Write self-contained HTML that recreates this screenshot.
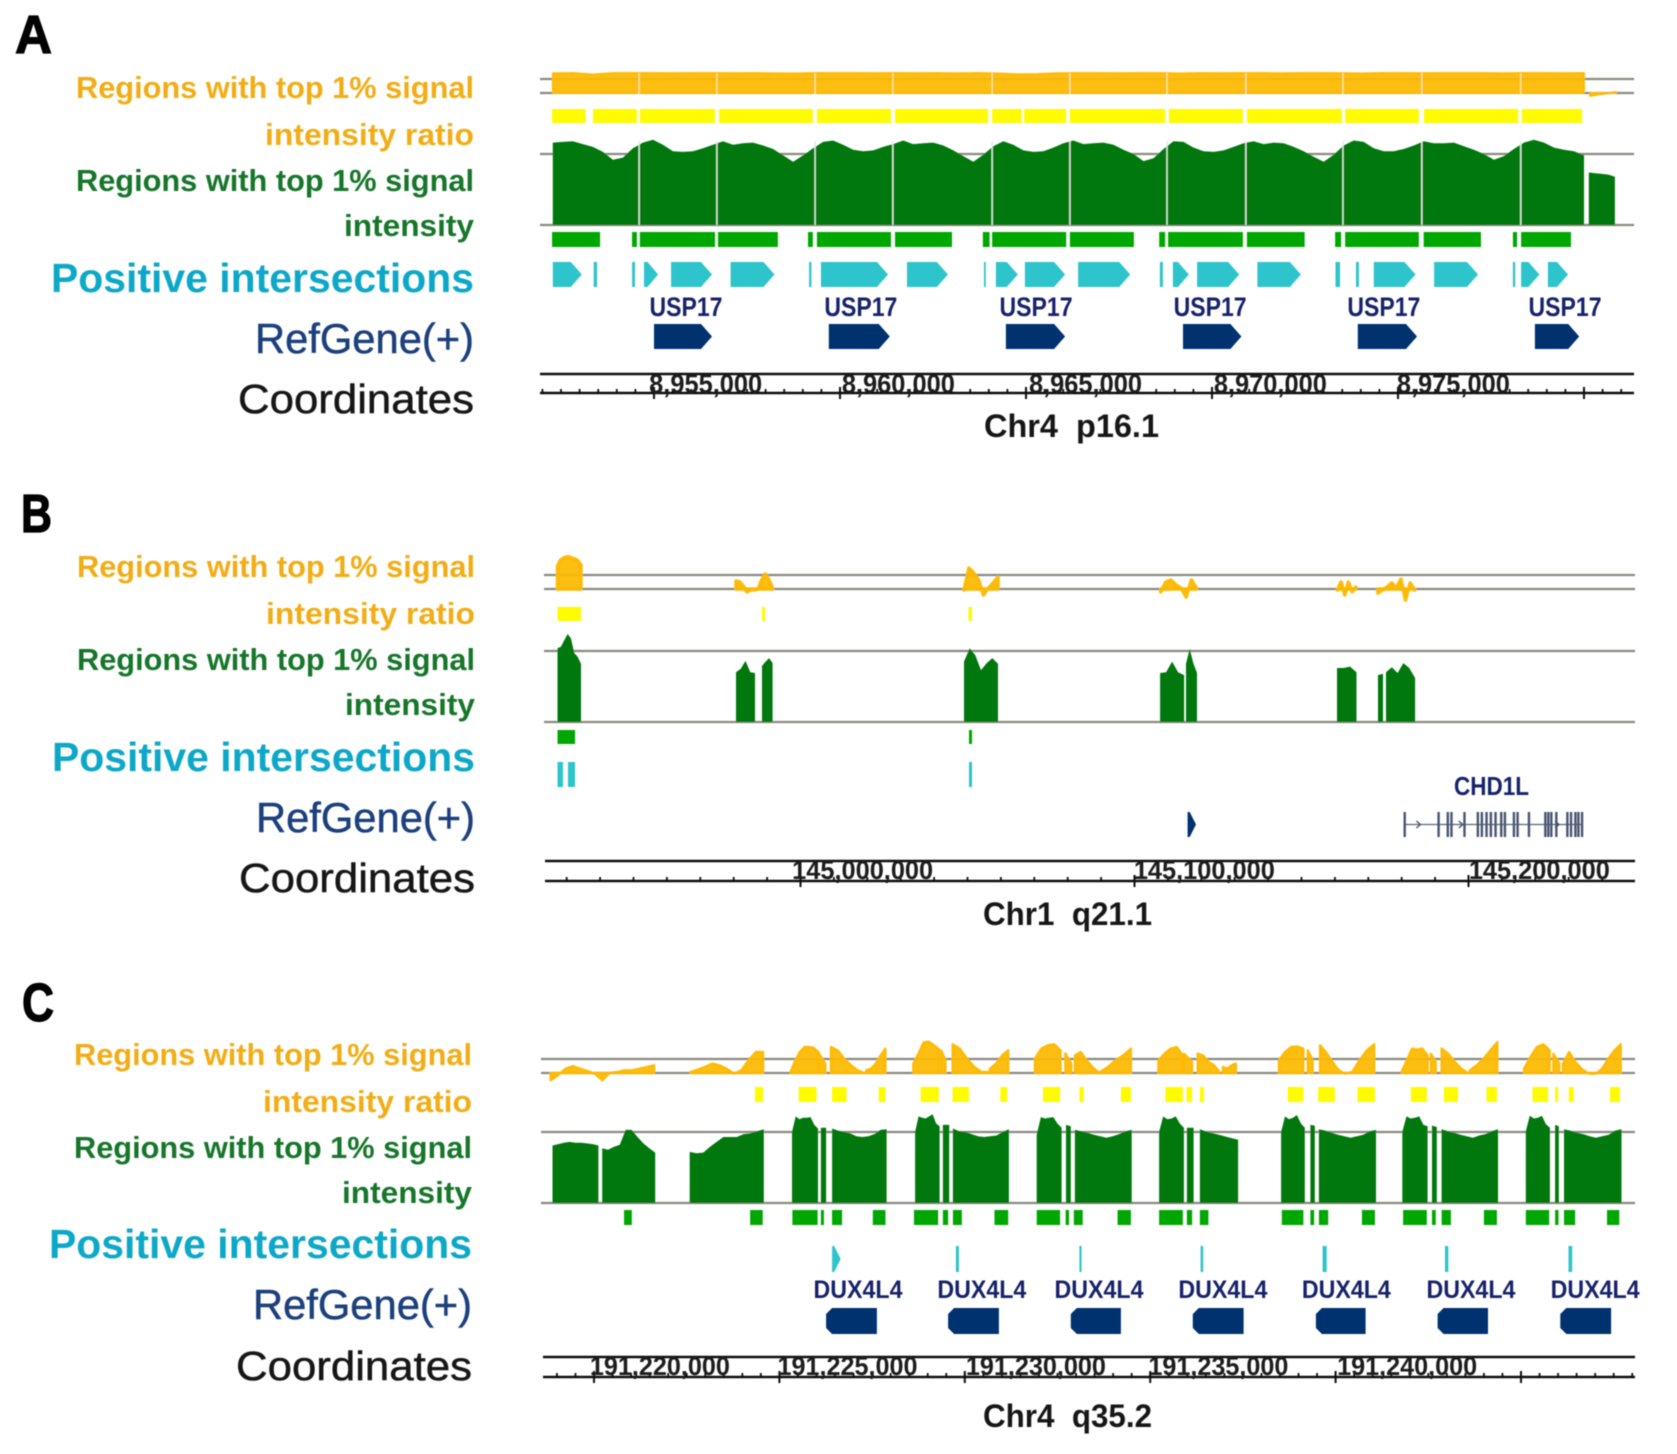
<!DOCTYPE html>
<html lang="en">
<head>
<meta charset="utf-8">
<title>Genome browser tracks: regions with top 1% signal</title>
<style>
html,body{margin:0;padding:0;background:#fff;}
svg{display:block;}
text{font-family:"Liberation Sans",Arial,sans-serif;}
.gold{fill:#f2ad13;font-size:31px;font-weight:700;}
.grn{fill:#17762b;font-size:31px;font-weight:700;}
.pos{fill:#11a8c8;font-size:41px;font-weight:700;}
.ref{fill:#1d3f7c;font-size:42px;stroke:#1d3f7c;stroke-width:.5px;}
.crd{fill:#141414;font-size:41px;stroke:#141414;stroke-width:.5px;}
.letter{fill:#000;font-size:54px;font-weight:700;stroke:#000;stroke-width:1.2px;}
.chr{fill:#141414;font-size:32px;font-weight:700;}
</style>
</head>
<body>
<svg id="figure" width="1677" height="1454" viewBox="0 0 1677 1454" xmlns="http://www.w3.org/2000/svg">
<defs><filter id="soft" x="-2%" y="-2%" width="104%" height="104%"><feGaussianBlur stdDeviation="0.65"/></filter></defs>
<rect width="1677" height="1454" fill="#fff"/>
<g id="root" filter="url(#soft)">

<g>
<text class="letter" x="15" y="53" textLength="37" lengthAdjust="spacingAndGlyphs">A</text>
<text class="gold" x="474" y="98" text-anchor="end" textLength="398" lengthAdjust="spacingAndGlyphs">Regions with top 1% signal</text>
<text class="gold" x="474" y="145" text-anchor="end" textLength="209" lengthAdjust="spacingAndGlyphs">intensity ratio</text>
<text class="grn" x="474" y="191" text-anchor="end" textLength="398" lengthAdjust="spacingAndGlyphs">Regions with top 1% signal</text>
<text class="grn" x="474" y="236" text-anchor="end" textLength="130" lengthAdjust="spacingAndGlyphs">intensity</text>
<text class="pos" x="474" y="292" text-anchor="end" textLength="423" lengthAdjust="spacingAndGlyphs">Positive intersections</text>
<text class="ref" x="474" y="353" text-anchor="end" textLength="219" lengthAdjust="spacingAndGlyphs">RefGene(+)</text>
<text class="crd" x="474" y="413" text-anchor="end" textLength="236" lengthAdjust="spacingAndGlyphs">Coordinates</text>
<text class="chr" x="984" y="437" textLength="175" lengthAdjust="spacingAndGlyphs">Chr4 &#160;p16.1</text>
</g>

<g>
<text class="letter" x="21" y="532" textLength="31" lengthAdjust="spacingAndGlyphs">B</text>
<text class="gold" x="475" y="577" text-anchor="end" textLength="398" lengthAdjust="spacingAndGlyphs">Regions with top 1% signal</text>
<text class="gold" x="475" y="624" text-anchor="end" textLength="209" lengthAdjust="spacingAndGlyphs">intensity ratio</text>
<text class="grn" x="475" y="670" text-anchor="end" textLength="398" lengthAdjust="spacingAndGlyphs">Regions with top 1% signal</text>
<text class="grn" x="475" y="715" text-anchor="end" textLength="130" lengthAdjust="spacingAndGlyphs">intensity</text>
<text class="pos" x="475" y="771" text-anchor="end" textLength="423" lengthAdjust="spacingAndGlyphs">Positive intersections</text>
<text class="ref" x="475" y="832" text-anchor="end" textLength="219" lengthAdjust="spacingAndGlyphs">RefGene(+)</text>
<text class="crd" x="475" y="892" text-anchor="end" textLength="236" lengthAdjust="spacingAndGlyphs">Coordinates</text>
<text class="chr" x="983" y="925" textLength="169" lengthAdjust="spacingAndGlyphs">Chr1 &#160;q21.1</text>
</g>

<g>
<text class="letter" x="22" y="1021" textLength="32" lengthAdjust="spacingAndGlyphs">C</text>
<text class="gold" x="472" y="1065" text-anchor="end" textLength="398" lengthAdjust="spacingAndGlyphs">Regions with top 1% signal</text>
<text class="gold" x="472" y="1112" text-anchor="end" textLength="209" lengthAdjust="spacingAndGlyphs">intensity ratio</text>
<text class="grn" x="472" y="1158" text-anchor="end" textLength="398" lengthAdjust="spacingAndGlyphs">Regions with top 1% signal</text>
<text class="grn" x="472" y="1203" text-anchor="end" textLength="130" lengthAdjust="spacingAndGlyphs">intensity</text>
<text class="pos" x="472" y="1258" text-anchor="end" textLength="423" lengthAdjust="spacingAndGlyphs">Positive intersections</text>
<text class="ref" x="472" y="1319" text-anchor="end" textLength="219" lengthAdjust="spacingAndGlyphs">RefGene(+)</text>
<text class="crd" x="472" y="1380" text-anchor="end" textLength="236" lengthAdjust="spacingAndGlyphs">Coordinates</text>
<text class="chr" x="983" y="1427" textLength="169" lengthAdjust="spacingAndGlyphs">Chr4 &#160;q35.2</text>
</g>

<g id="panel-a"></g>
<g id="panel-b"></g>
<g id="panel-c"></g>
</g>
</svg>

<script>
/* ---------- PANEL A DATA: kb past 8,950,000 on chr4 ---------- */
const aRatioBlocks = [[2.28,30.00],[30.16,30.86]];
const aRatioValues = [
 [141,143,132,143,143,143,142,143,143,142,143,141,140,143,143,143,142,143,142,143,141,143,140,134,136,142,143,143,142,143,143,140,143,142,143,143,141,143,143,142,140,143,143,142,143,143,143,141,143,143,142,143],
 [-21,-16,-10,-7,-2,3,7]
];
const aYellowBars = [[2.26,3.16],[3.36,4.54],[4.62,6.64],[6.75,9.27],[9.38,11.37],[11.48,13.98],[14.09,14.88],[14.95,16.08],[16.18,18.74],[18.84,20.83],[20.94,23.49],[23.58,25.56],[25.70,28.23],[28.33,29.95]];
const aCoverageBlocks = [[2.28,30.00],[30.13,30.83]];
const aCoverageValues = [
 [116,117,118,114,110,103,92,95,108,116,120,113,104,103,104,108,113,118,113,115,116,112,107,98,89,98,108,117,119,113,106,104,105,110,114,119,114,115,116,112,105,97,89,99,111,118,113,105,103,104,109,115,119,114,115,116,113,106,100,90,94,107,118,117,109,104,103,105,110,115,118,114,116,115,110,104,96,89,99,112,119,117,108,104,104,107,112,118,115,115,116,111,106,100,92,97,107,116,120,116,109,106,104,98],
 [74,73,72,71,68]
];
const aCoverageGaps = [4.60,6.69,9.33,11.42,14.09,16.18,18.79,20.91,23.52,25.64,28.30];
const aGreenBars = [[2.26,3.55],[4.41,4.54],[4.62,6.64],[6.72,8.33],[9.14,9.27],[9.38,11.37],[11.48,13.01],[13.84,14.02],[14.09,16.08],[16.18,17.90],[18.58,18.74],[18.82,20.83],[20.94,22.49],[23.31,23.47],[23.58,25.56],[25.69,27.23],[28.09,28.20],[28.31,29.65]];
const aPositive = [[2.28,3.06],[3.38,3.47],[4.41,4.49],[4.73,5.11],[5.46,6.56],[7.06,8.24],[9.17,9.23],[9.49,11.29],[11.80,12.90],[13.87,13.92],[14.19,14.78],[14.97,16.05],[16.40,17.80],[18.60,18.68],[18.95,19.38],[19.60,20.73],[21.22,22.39],[23.32,23.44],[23.87,23.95],[24.35,25.47],[25.97,27.15],[28.09,28.15],[28.31,28.80],[29.03,29.57]];
const aGenes = [[5.00,6.56],[9.70,11.34],[14.46,16.05],[19.22,20.79],[23.92,25.51],[28.68,29.87]];
const aGeneNames = ["USP17","USP17","USP17","USP17","USP17","USP17"];
const aGeneNameKb = [5.86,10.56,15.27,19.95,24.62,29.49];
const aMajorTicks = [5,10,15,20,25,30];
const aTickLabels = ["8,955,000","8,960,000","8,965,000","8,970,000","8,975,000"];
const aTickLabelKb = [4.87,10.05,15.08,20.05,24.97];

/* ---------- PANEL B DATA: kb past 144,900,000 on chr1 ---------- */
const bRatioBlocks = [[27.25,34.28],[80.69,91.65],[148.95,159.13],[207.85,218.53],[260.75,266.26],[272.87,283.89]];
const bRatioValues = [
 [164,207,221,229,229,221,214,200,171],
 [57,50,21,-21,-7,-7,0,64,107,64,7],
 [-7,150,114,64,-43,7,43,86],
 [-21,50,64,29,7,-57,64,7],
 [-7,50,-43,50,-21,14],
 [-29,-7,14,43,7,71,-79,43,-7]
];
const bYellowBars = [[27.25,34.28],[88.48,89.37],[150.30,151.35]];
const bCoverageBlocks = [[27.25,34.28],[80.69,86.38],[88.48,91.65],[148.95,159.13],[207.66,214.84],[215.42,218.71],[260.63,266.47],[272.90,274.40],[275.30,284.00]];
const bCoverageValues = [
 [104,106,115,124,118,97,92,82],
 [70,75,86,70,69],
 [79,85,90,83],
 [85,104,94,73,83,90,82],
 [69,70,85,70,66],
 [82,103,83,69],
 [76,76,78,70],
 [66,68],
 [70,77,69,83,76,62]
];
const bGreenBars = [[27.25,32.49],[150.45,151.35]];
const bPositive = [[27.25,28.89],[30.39,32.49],[150.45,151.35]];
const bGenes = [[215.90,218.40]];
const bGeneModelSpan = [280.9,334.0];
const bGeneModelExons = [280.9,291.05,293.8,294.9,298.8,302.8,304.0,305.4,306.7,308.1,309.8,310.9,313.6,314.7,318.1,323.0,323.9,324.8,326.3,329.6,330.7,332.0,332.9,334.0];
const bGeneModelChevrons = [285.3,298.0,326.8];
const bGeneNames = ["CHD1L"];
const bGeneNameKb = [306.9];
const bMajorTicks = [100,200,300];
const bTickLabels = ["145,000,000","145,100,000","145,200,000"];
const bTickLabelKb = [97.5,199.8,300.1];

/* ---------- PANEL C DATA: kb past 191,215,000 on chr4 ---------- */
const cRatioBlocks = [[3.83,6.62],[7.60,9.56],[10.30,11.05],[11.07,11.24],[11.39,12.29],[12.34,12.86],[13.61,14.30],[14.36,14.48],[14.67,15.65],[15.68,16.17],[16.89,17.58],[17.71,17.87],[17.97,18.60],[18.65,19.48],[20.22,20.88],[20.91,21.13],[21.28,21.87],[21.96,22.31],[23.47,24.13],[24.25,24.38],[24.58,25.20],[25.25,26.04],[26.78,27.48],[27.57,27.70],[27.86,28.57],[28.62,29.36],[30.08,30.77],[30.87,31.03],[31.13,31.80],[31.85,32.69]];
const cRatioValues = [
 [-52,-17,31,48,31,14,-5,-52,0,7,19,19,31,43,55],
 [7,24,43,67,55,31,-5,19,90,150,150],
 [7,90,150,186,186,180,150],[138,67],[186,162,102,55,19,0],[19,31,67,126,174],
 [67,138,217,224,200,170],[162,90],[205,174,102,43,7,7],[31,67,126,162],
 [102,174,198,205,162],[140,70],[126,150,90,43,7],[7,43,90,126,174],
 [90,138,174,186,126],[138,79],[138,126,79,55,7],[43,31,55,67],
 [90,150,186,190,174],[162,90],[198,150,90,31,0],[-5,7,90,162,205],
 [7,90,174,167,174,126],[138,80],[174,138,79,31,0],[19,55,102,162,221],
 [31,114,186,205,162],[138,70],[67,150,79,31,0],[-5,-5,31,102,162,205]
];
const cYellowBars = [[9.34,9.56],[10.52,11.00],[11.42,11.81],[12.68,12.86],[13.81,14.30],[14.67,15.11],[15.96,16.14],[17.11,17.57],[18.09,18.21],[19.21,19.48],[20.41,20.88],[20.98,21.13],[21.34,21.45],[23.71,24.13],[24.53,24.98],[25.59,26.06],[27.03,27.46],[27.92,28.30],[29.07,29.35],[30.31,30.73],[30.92,31.00],[31.29,31.42],[32.40,32.67]];
const cCoverageBlocks = [[3.88,5.12],[5.22,6.65],[7.58,9.58],[10.34,11.04],[11.12,11.26],[11.42,12.89],[13.66,14.32],[14.41,14.58],[14.68,16.19],[16.94,17.61],[17.73,17.86],[17.97,19.50],[20.24,20.91],[20.99,21.17],[21.34,22.37],[23.53,24.17],[24.32,24.44],[24.55,26.09],[26.80,27.48],[27.60,27.73],[27.86,29.38],[30.13,30.78],[30.92,31.02],[31.16,32.71]];
const cCoverageValues = [
 [81,83,85,86,85,85,84,83,81],
 [77,75,79,82,103,103,93,84,77,71],
 [72,70,71,79,86,93,93,93,97,98,101,104],
 [100,122,118,120,120,121,110,105],[106,106],[105,102,100,98,94,93,94,97,103,104],
 [100,122,120,119,122,125,112,108],[110,110],[105,101,100,97,94,93,94,95,100,104],
 [96,121,119,120,121,112,106],[110,108],[103,101,99,96,94,92,94,97,101,103],
 [100,122,118,119,122,112,106],[106,106],[104,101,99,97,95,93,91,89],
 [100,122,118,120,124,112,106],[110,109],[104,102,99,96,94,92,94,96,101,103],
 [100,122,119,120,122,110,108],[109,107],[104,101,99,96,94,92,95,97,101,104],
 [101,123,119,120,123,111,106],[110,108],[104,102,99,97,94,92,94,96,102,104]
];
const cGreenBars = [[5.81,6.02],[9.21,9.55],[10.35,11.03],[11.12,11.20],[11.42,11.69],[12.52,12.86],[13.63,14.28],[14.41,14.55],[14.68,14.92],[15.80,16.17],[16.94,17.57],[17.72,17.81],[17.94,18.18],[19.12,19.48],[20.24,20.88],[20.99,21.13],[21.34,21.57],[23.55,24.13],[24.32,24.42],[24.55,24.80],[25.71,26.06],[26.82,27.46],[27.60,27.70],[27.86,28.11],[29.00,29.35],[30.13,30.76],[30.92,31.01],[31.16,31.46],[32.32,32.65]];
const cPositive = [[11.42,11.65],[14.76,14.84],[18.09,18.15],[21.36,21.43],[24.65,24.76],[27.95,28.04],[31.28,31.38]];
const cGenes = [[11.26,12.63],[14.55,15.92],[17.86,19.21],[21.15,22.52],[24.47,25.81],[27.75,29.11],[31.06,32.43]];
const cGeneNames = ["DUX4L4","DUX4L4","DUX4L4","DUX4L4","DUX4L4","DUX4L4","DUX4L4"];
const cGeneNameKb = [12.12,15.46,18.62,21.96,25.29,28.65,32.0];
const cMajorTicks = [5,10,15,20,25,30];
const cTickLabels = ["191,220,000","191,225,000","191,230,000","191,235,000","191,240,000"];
const cTickLabelKb = [4.89,9.95,15.03,19.95,25.04];

/* ---------- AXES ---------- */
const SVG_NS = "http://www.w3.org/2000/svg";
function make(parent, tag, attrs, text) {
  const node = document.createElementNS(SVG_NS, tag);
  for (const k in attrs) node.setAttribute(k, attrs[k]);
  if (text !== undefined) node.textContent = text;
  parent.appendChild(node);
  return node;
}
function axes(o) {
  return {
    x: kb => o.xOrigin + kb * o.pxPerKb,
    ratioY: v => o.ratioBase - v * (o.ratioBase - o.ratioLine) / 100,
    covY: v => o.covBase - v * (o.covBase - o.covLine) / 100
  };
}

/* ---------- DRAWING ---------- */
function blockPath(block, values, xf, yf, base) {
  const n = values.length;
  let d = "M" + xf(block[0]).toFixed(1) + " " + base;
  values.forEach((v, i) => {
    const kb = block[0] + (block[1] - block[0]) * i / (n - 1);
    d += "L" + xf(kb).toFixed(1) + " " + yf(v).toFixed(1);
  });
  return d + "L" + xf(block[1]).toFixed(1) + " " + base + "Z";
}
function drawTrackLines(g, o) {
  [o.ratioLine, o.ratioBase, o.covLine, o.covBase].forEach(y => {
    const ln = make(g, "line", {x1: o.lineLeft, x2: o.lineRight, y1: y, y2: y, stroke: "#8a8a80", "stroke-width": 2.2});
    
    
  });
}
function drawRatio(g, o, ax, blocks, values) {
  blocks.forEach((b, i) => {
    const p = make(g, "path", {d: blockPath(b, values[i], ax.x, ax.ratioY, o.ratioBase), fill: "#fdb900", "fill-opacity": 0.93, stroke: "#fdb900", "stroke-opacity": 0.93, "stroke-width": o.ratioStroke, "stroke-linejoin": "round"});
    
    
  });
}
function drawYellow(g, o, ax, bars) {
  bars.forEach(b => {
    const r = make(g, "rect", {x: ax.x(b[0]), y: o.yellowTop, width: ax.x(b[1]) - ax.x(b[0]), height: o.yellowH, fill: "#fffb00"});
    
    
  });
}
function drawCoverage(g, o, ax, blocks, values) {
  blocks.forEach((b, i) => {
    const p = make(g, "path", {d: blockPath(b, values[i], ax.x, ax.covY, o.covBase), fill: "#04780a"});
    
    
  });
}
function drawCoverageGaps(g, o, ax, gaps) {
  gaps.forEach(kb => {
    const a = make(g, "line", {x1: ax.x(kb), x2: ax.x(kb), y1: o.covBase - 84, y2: o.covBase, stroke: "#dfe9df", "stroke-width": 1.4});
    
    
    const c = make(g, "line", {x1: ax.x(kb), x2: ax.x(kb), y1: o.ratioLine - 6, y2: o.ratioBase + 1, stroke: "#ffe9a8", "stroke-width": 1.2});
    
    
  });
}
function drawGreenBars(g, o, ax, bars) {
  bars.forEach(b => {
    const r = make(g, "rect", {x: ax.x(b[0]), y: o.barTop, width: ax.x(b[1]) - ax.x(b[0]), height: o.barH, fill: "#06a706"});
    
    
  });
}
function featurePoints(s, e, t, h, dir) {
  const w = e - s, b = t + h, m = t + h / 2;
  if (w < 7.5) return [[s,t],[e,t],[e,b],[s,b]];
  if (dir < 0) return [[s+6,t],[e,t],[e,b],[s+6,b],[s,b-6],[s,t+6]];
  const tip = Math.min(11, w * 0.75);
  return [[s,t],[e-tip,t],[e,m],[e-tip,b],[s,b]];
}
function ptsAttr(p) { return p.map(q => q[0].toFixed(1) + "," + q[1].toFixed(1)).join(" "); }
function drawPositive(g, o, ax, feats) {
  feats.forEach(b => {
    const s = make(g, "polygon", {points: ptsAttr(featurePoints(ax.x(b[0]), ax.x(b[1]), o.posTop, o.posH, 1)), fill: "#2fc4cb"});
    
    
  });
}
function drawGenes(g, o, ax, genes, dir) {
  genes.forEach(b => {
    const s = make(g, "polygon", {points: ptsAttr(featurePoints(ax.x(b[0]), ax.x(b[1]), o.refTop, o.refH, dir)), fill: "#05326f"});
    
    
  });
}
function drawGeneNames(g, o, ax, names, kbs) {
  names.forEach((n, i) => {
    const t = make(g, "text", {x: ax.x(kbs[i]), y: o.nameY, "text-anchor": "middle", "font-weight": 700, "font-size": o.nameSize, textLength: o.nameWidth, lengthAdjust: "spacingAndGlyphs", fill: "#18216b"}, n);
    
    
  });
}
function drawAxis(g, o, ax, majors, labels, labelKb) {
  [o.axisTop, o.axisBottom].forEach(y => {
    const ln = make(g, "line", {x1: o.axisLeft, x2: o.lineRight, y1: y, y2: y, stroke: "#111", "stroke-width": 2.4});
    
    
  });
  for (let kb = o.minorFrom; kb <= o.minorTo + 1e-6; kb += o.minorStep) {
    const t = make(g, "line", {x1: ax.x(kb), x2: ax.x(kb), y1: o.axisBottom - 4, y2: o.axisBottom + 1, stroke: "#111", "stroke-width": 1.8});
    
    
  }
  majors.forEach(kb => {
    const t = make(g, "line", {x1: ax.x(kb), x2: ax.x(kb), y1: o.axisBottom - 6, y2: o.axisBottom + 6, stroke: "#111", "stroke-width": 2});
    
    
  });
  labels.forEach((s, i) => {
    const t = make(g, "text", {x: ax.x(labelKb[i]), y: o.tickY, "font-weight": 700, "font-size": o.tickSize, textLength: o.tickWidth, lengthAdjust: "spacingAndGlyphs", fill: "#1a1a1a"}, s);
    
    
  });
}

/* ---------- PANEL A ---------- */
const layoutA = {xOrigin:468, pxPerKb:37.2, ratioBase:93, ratioLine:79, ratioStroke:2, covBase:225, covLine:154, lineLeft:540, lineRight:1634, axisLeft:540,
  yellowTop:109, yellowH:14, barTop:232, barH:15, posTop:262, posH:25, refTop:324, refH:25, axisTop:374, axisBottom:393,
  nameY:316, nameSize:27, nameWidth:73, minorFrom:2, minorTo:31, minorStep:0.5, tickY:393, tickSize:27, tickWidth:113};
const axA = axes(layoutA), gA = document.getElementById("panel-a");
drawTrackLines(gA, layoutA);
drawRatio(gA, layoutA, axA, aRatioBlocks, aRatioValues);
drawYellow(gA, layoutA, axA, aYellowBars);
drawCoverage(gA, layoutA, axA, aCoverageBlocks, aCoverageValues);
drawCoverageGaps(gA, layoutA, axA, aCoverageGaps);
drawGreenBars(gA, layoutA, axA, aGreenBars);
drawPositive(gA, layoutA, axA, aPositive);
drawGenes(gA, layoutA, axA, aGenes, 1);
drawGeneNames(gA, layoutA, axA, aGeneNames, aGeneNameKb);
drawAxis(gA, layoutA, axA, aMajorTicks, aTickLabels, aTickLabelKb);

/* ---------- PANEL B ---------- */
const layoutB = {xOrigin:466.5, pxPerKb:3.34, ratioBase:589, ratioLine:575, ratioStroke:3.6, covBase:722, covLine:651, lineLeft:544, lineRight:1635, axisLeft:545,
  yellowTop:607, yellowH:14, barTop:730, barH:14, posTop:762, posH:25, refTop:812, refH:25, axisTop:861, axisBottom:881,
  nameY:795, nameSize:26, nameWidth:75, minorFrom:30, minorTo:340, minorStep:10, tickY:879, tickSize:26, tickWidth:141};
const axB = axes(layoutB), gB = document.getElementById("panel-b");
drawTrackLines(gB, layoutB);
drawRatio(gB, layoutB, axB, bRatioBlocks, bRatioValues);
drawYellow(gB, layoutB, axB, bYellowBars);
drawCoverage(gB, layoutB, axB, bCoverageBlocks, bCoverageValues);
drawGreenBars(gB, layoutB, axB, bGreenBars);
drawPositive(gB, layoutB, axB, bPositive);
drawGenes(gB, layoutB, axB, bGenes, 1);
drawGeneNames(gB, layoutB, axB, bGeneNames, bGeneNameKb);
const intron = make(gB, "line", {x1: axB.x(bGeneModelSpan[0]), x2: axB.x(bGeneModelSpan[1]), y1: 824.5, y2: 824.5, stroke: "#5a6478", "stroke-width": 1.2});


bGeneModelExons.forEach(kb => {
  const ex = make(gB, "line", {x1: axB.x(kb), x2: axB.x(kb), y1: layoutB.refTop, y2: layoutB.refTop + layoutB.refH, stroke: "#4a5470", "stroke-width": 2.4});
  
  
});
bGeneModelChevrons.forEach(kb => {
  const cx = axB.x(kb);
  const ch = make(gB, "polyline", {points: (cx-3) + ",821 " + (cx+1) + ",824.5 " + (cx-3) + ",828", fill: "none", stroke: "#4a5470", "stroke-width": 1.4});
  
  
});
drawAxis(gB, layoutB, axB, bMajorTicks, bTickLabels, bTickLabelKb);

/* ---------- PANEL C ---------- */
const layoutC = {xOrigin:408.6, pxPerKb:37.08, ratioBase:1073, ratioLine:1059, ratioStroke:2.4, covBase:1203, covLine:1132, lineLeft:541, lineRight:1635, axisLeft:543,
  yellowTop:1087, yellowH:15, barTop:1210, barH:15, posTop:1246, posH:26, refTop:1308, refH:26, axisTop:1357, axisBottom:1377,
  nameY:1298, nameSize:25, nameWidth:89, minorFrom:4, minorTo:33, minorStep:0.5, tickY:1375, tickSize:26, tickWidth:140};
const axC = axes(layoutC), gC = document.getElementById("panel-c");
drawTrackLines(gC, layoutC);
drawRatio(gC, layoutC, axC, cRatioBlocks, cRatioValues);
drawYellow(gC, layoutC, axC, cYellowBars);
drawCoverage(gC, layoutC, axC, cCoverageBlocks, cCoverageValues);
drawGreenBars(gC, layoutC, axC, cGreenBars);
drawPositive(gC, layoutC, axC, cPositive);
drawGenes(gC, layoutC, axC, cGenes, -1);
drawGeneNames(gC, layoutC, axC, cGeneNames, cGeneNameKb);
drawAxis(gC, layoutC, axC, cMajorTicks, cTickLabels, cTickLabelKb);
</script>
</body>
</html>
